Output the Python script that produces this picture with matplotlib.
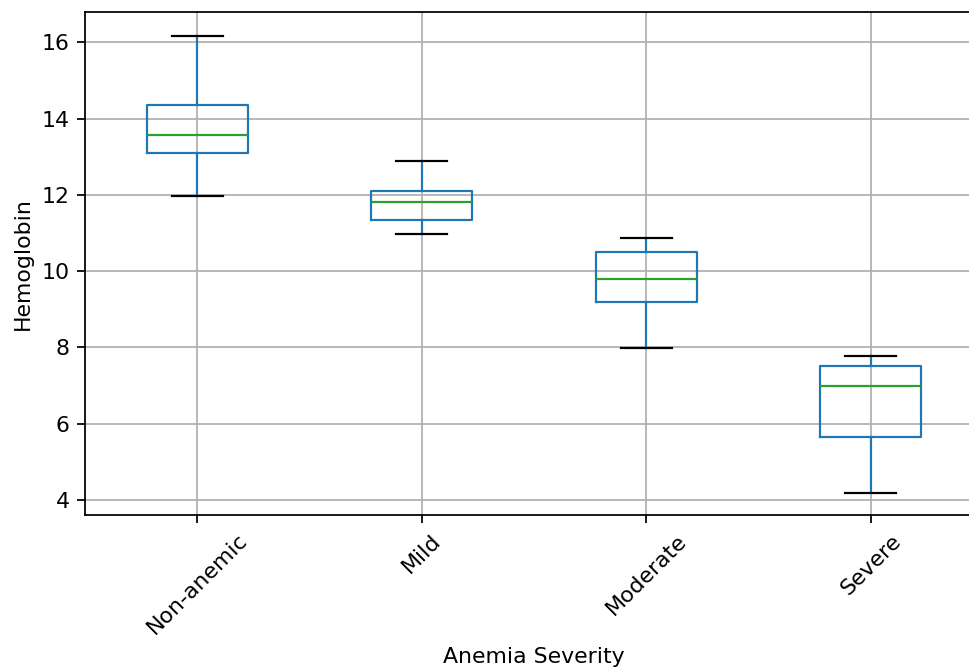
import matplotlib
matplotlib.use("Agg")
from matplotlib import pyplot as plt

# five-number summaries (whisker low, Q1, median, Q3, whisker high)
categories = ["Non-anemic", "Mild", "Moderate", "Severe"]
whisker_low = [11.98, 10.98, 7.99, 4.18]
q1 = [13.11, 11.33, 9.20, 5.65]
median = [13.56, 11.82, 9.80, 6.99]
q3 = [14.37, 12.11, 10.51, 7.52]
whisker_high = [16.18, 12.90, 10.88, 7.78]

stats = [dict(label=c, whislo=lo, q1=a, med=m, q3=b, whishi=hi, fliers=[])
         for c, lo, a, m, b, hi in zip(categories, whisker_low, q1, median, q3, whisker_high)]

DPI = 158
W, H = 969, 667
fig = plt.figure(figsize=(W / DPI, H / DPI), dpi=DPI)
# right spine sits just past the image edge in the reference
ax = fig.add_axes([85 / W, 1 - 515 / H, (983 - 85) / W, (515 - 12) / H])

ax.bxp(stats, widths=0.45,
       boxprops=dict(color="tab:blue"),
       whiskerprops=dict(color="tab:blue"),
       capprops=dict(color="black"),
       medianprops=dict(color="tab:green"))
ax.grid(True)
ax.set_axisbelow(True)
ax.set_xlim(0.5, 4.5)
ax.set_yticks([4, 6, 8, 10, 12, 14, 16])
ax.set_ylim(3.6, 16.8)
ax.tick_params(axis="x", labelrotation=45)
ax.set_xlabel("Anemia Severity")
ax.set_ylabel("Hemoglobin")

fig.savefig("out.png", dpi=DPI)
